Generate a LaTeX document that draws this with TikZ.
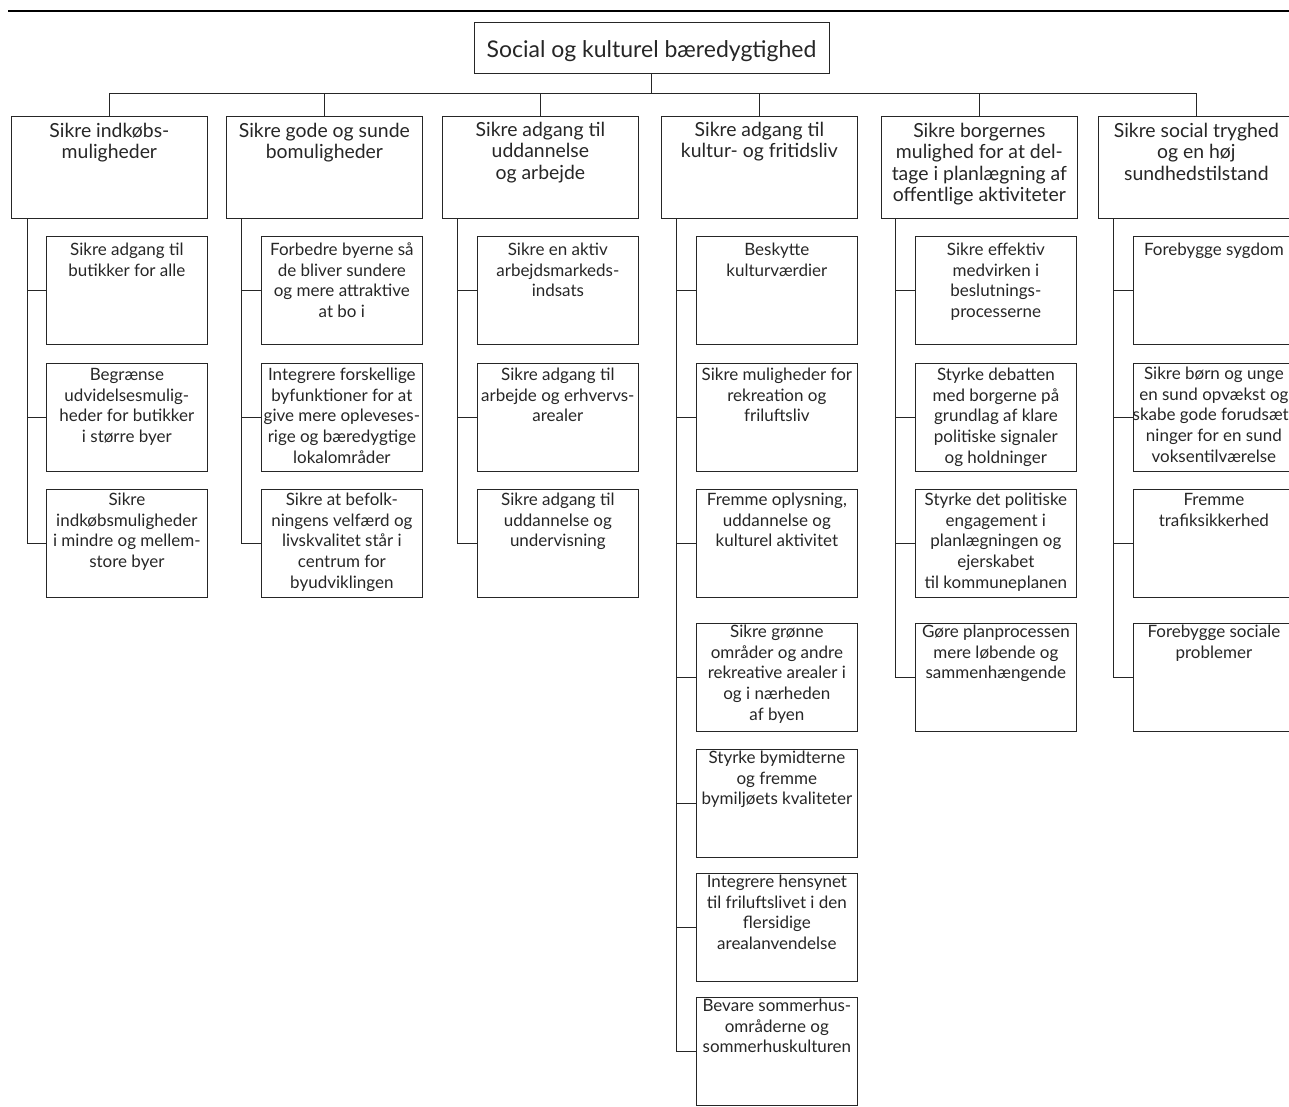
\documentclass[tikz,border=0pt]{standalone}
\usepackage{fontspec}
\setmainfont{Lato}
\usepackage{tikz}

% text blocks, top aligned, first baseline set by the optional argument
\newcommand{\maintext}[2][21pt]{\parbox[t][102pt][t]{196pt}{\centering\rule{0pt}{#1}#2}}
\newcommand{\subtext}[2][17pt]{\parbox[t][108pt][t]{161pt}{\centering\rule{0pt}{#1}#2}}

\begin{document}
\begin{tikzpicture}[x=1pt,y=-1pt,line width=0.75pt,color=black!85,every node/.style={draw=black!85,inner sep=0pt,text=black!85},
	rootbox/.style={anchor=north,minimum width=355pt,minimum height=51pt,font=\fontsize{23}{27}\selectfont},
	mainbox/.style={anchor=north west,font=\fontsize{19.4}{21.5}\selectfont},
	subbox/.style={anchor=north west,font=\fontsize{17}{20.8}\selectfont}]
	\useasboundingbox (0,0) rectangle (1289,1106);
	\clip (0,0) rectangle (1289,1106);
	\draw[line width=2.4pt,black] (8,11) -- (1289,11);

	\node[rootbox] (root) at (651.5,22) {\raisebox{-3pt}[\height][\depth]{Social og kulturel bæredygtighed}};

	\node[mainbox] (a) at (11,116) {\maintext{Sikre indkøbs-\\muligheder}};
	\node[mainbox] (b) at (226,116) {\maintext{Sikre gode og sunde\\bomuligheder}};
	\node[mainbox] (c) at (442,116) {\maintext[20pt]{Sikre adgang til\\uddannelse\\og arbejde}};
	\node[mainbox] (d) at (661,116) {\maintext[20pt]{Sikre adgang til\\kultur- og fritidsliv}};
	\node[mainbox] (e) at (881,116) {\maintext{Sikre borgernes\\mulighed for at del-\\tage i planlægning af\\offentlige aktiviteter}};
	\node[mainbox] (f) at (1098,116) {\maintext{Sikre social tryghed\\og en høj\\sundhedstilstand}};

	\node[subbox] (a1) at (46,236) {\subtext[19pt]{Sikre adgang til\\butikker for alle}};
	\node[subbox] (a2) at (46,363) {\subtext{Begrænse\\udvidelsesmulig-\\heder for butikker\\i større byer}};
	\node[subbox] (a3) at (46,489) {\subtext[16pt]{Sikre\\indkøbsmuligheder\\i mindre og mellem-\\store byer}};

	\node[subbox] (b1) at (261,236) {\subtext[19pt]{Forbedre byerne så\\de bliver sundere\\og mere attraktive\\at bo i}};
	\node[subbox] (b2) at (261,363) {\subtext{Integrere forskellige\\byfunktioner for at\\give mere opleveses-\\rige og bæredygtige\\lokalområder}};
	\node[subbox] (b3) at (261,489) {\subtext[16pt]{Sikre at befolk-\\ningens velfærd og\\livskvalitet står i\\centrum for\\byudviklingen}};

	\node[subbox] (c1) at (477,236) {\subtext[19pt]{Sikre en aktiv\\arbejdsmarkeds-\\indsats}};
	\node[subbox] (c2) at (477,363) {\subtext{Sikre adgang til\\arbejde og erhvervs-\\arealer}};
	\node[subbox] (c3) at (477,489) {\subtext[16pt]{Sikre adgang til\\uddannelse og\\undervisning}};

	\node[subbox] (d1) at (696,236) {\subtext[19pt]{Beskytte\\kulturværdier}};
	\node[subbox] (d2) at (696,363) {\subtext{Sikre muligheder for\\rekreation og\\friluftsliv}};
	\node[subbox] (d3) at (696,489) {\subtext[16pt]{Fremme oplysning,\\uddannelse og\\kulturel aktivitet}};
	\node[subbox] (d4) at (696,623) {\subtext[14pt]{Sikre grønne\\områder og andre\\rekreative arealer i\\og i nærheden\\af byen}};
	\node[subbox] (d5) at (696,749) {\subtext[14pt]{Styrke bymidterne\\og fremme\\bymiljøets kvaliteter}};
	\node[subbox] (d6) at (696,873) {\subtext[14pt]{Integrere hensynet\\til friluftslivet i den\\flersidige\\arealanvendelse}};
	\node[subbox] (d7) at (696,997) {\subtext[14pt]{Bevare sommerhus-\\områderne og\\sommerhuskulturen}};

	\node[subbox] (e1) at (915,236) {\subtext[19pt]{Sikre effektiv\\medvirken i\\beslutnings-\\processerne}};
	\node[subbox] (e2) at (915,363) {\subtext{Styrke debatten\\med borgerne på\\grundlag af klare\\politiske signaler\\og holdninger}};
	\node[subbox] (e3) at (915,489) {\subtext[16pt]{Styrke det politiske\\engagement i\\planlægningen og\\ejerskabet\\til kommuneplanen}};
	\node[subbox] (e4) at (915,623) {\subtext[14pt]{Gøre planprocessen\\mere løbende og\\sammenhængende}};

	\node[subbox] (f1) at (1133,236) {\subtext[19pt]{Forebygge sygdom}};
	\node[subbox] (f2) at (1133,363) {\subtext[16pt]{Sikre børn og unge\\en sund opvækst og\\\makebox[\linewidth]{skabe gode forudsæt-}\\ninger for en sund\\voksentilværelse}};
	\node[subbox] (f3) at (1133,489) {\subtext[16pt]{Fremme\\trafiksikkerhed}};
	\node[subbox] (f4) at (1133,623) {\subtext[14pt]{Forebygge sociale\\problemer}};

	% bus from the title to the six themes
	\coordinate (bus) at (0,93);
	\draw (root.south) -- (root.south |- bus);
	\draw (a.north) -- (a.north |- bus) -- (f.north |- bus) -- (f.north);
	\draw (b.north) -- (b.north |- bus) (c.north) -- (c.north |- bus) (d.north) -- (d.north |- bus) (e.north) -- (e.north |- bus);

	% branches down each column
	\draw ([xshift=16pt]a.south west) |- (a1.west) ([xshift=16pt]a.south west) |- (a2.west) ([xshift=16pt]a.south west) |- (a3.west);
	\draw ([xshift=15pt]b.south west) |- (b1.west) ([xshift=15pt]b.south west) |- (b2.west) ([xshift=15pt]b.south west) |- (b3.west);
	\draw ([xshift=15pt]c.south west) |- (c1.west) ([xshift=15pt]c.south west) |- (c2.west) ([xshift=15pt]c.south west) |- (c3.west);
	\draw ([xshift=15pt]d.south west) |- (d1.west) ([xshift=15pt]d.south west) |- (d2.west) ([xshift=15pt]d.south west) |- (d3.west)
		([xshift=15pt]d.south west) |- (d4.west) ([xshift=15pt]d.south west) |- (d5.west) ([xshift=15pt]d.south west) |- (d6.west)
		([xshift=15pt]d.south west) |- (d7.west);
	\draw ([xshift=14pt]e.south west) |- (e1.west) ([xshift=14pt]e.south west) |- (e2.west) ([xshift=14pt]e.south west) |- (e3.west)
		([xshift=14pt]e.south west) |- (e4.west);
	\draw ([xshift=15pt]f.south west) |- (f1.west) ([xshift=15pt]f.south west) |- (f2.west) ([xshift=15pt]f.south west) |- (f3.west)
		([xshift=15pt]f.south west) |- (f4.west);
\end{tikzpicture}
\end{document}
